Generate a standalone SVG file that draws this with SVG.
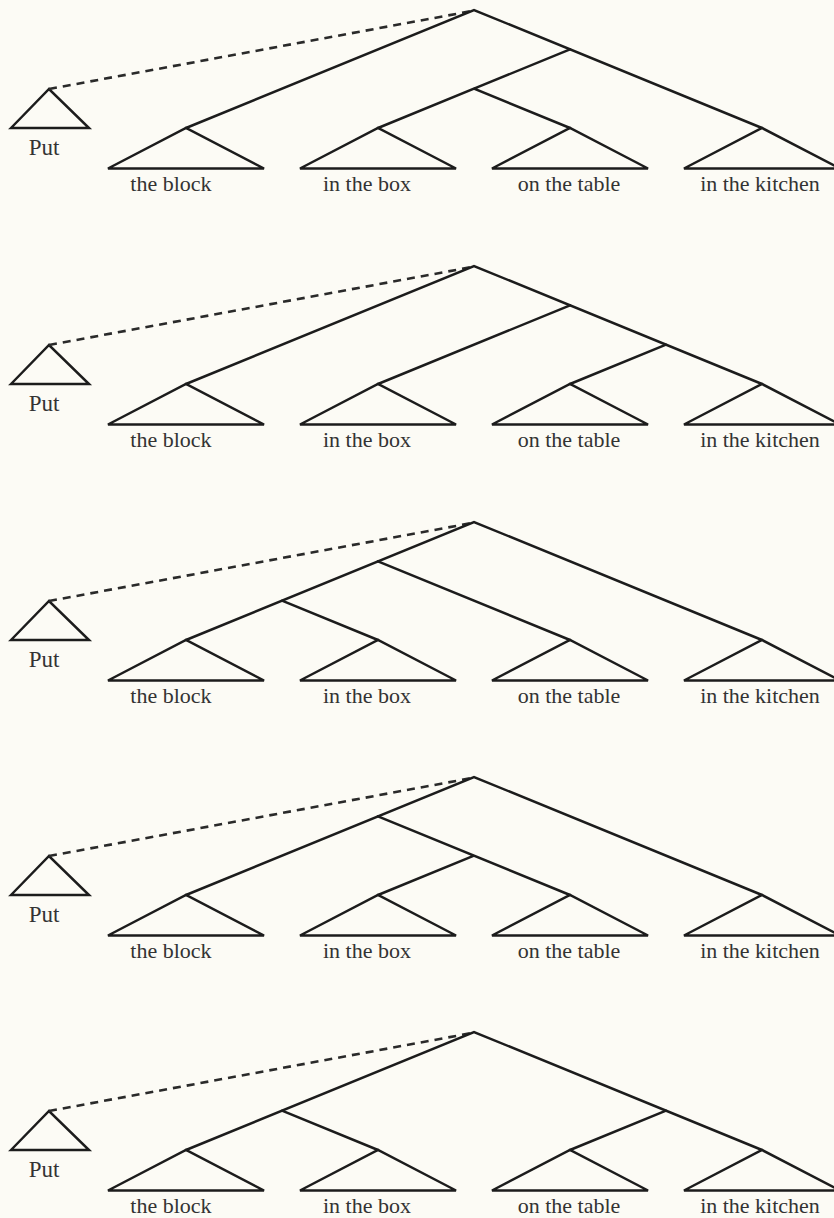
<svg xmlns="http://www.w3.org/2000/svg" width="834" height="1218" viewBox="0 0 834 1218">
<style>
.bg{fill:#fcfbf5}
.ln{fill:none;stroke:#1c1c1c;stroke-width:2.5;stroke-linejoin:miter;stroke-linecap:round}
.ds{fill:none;stroke:#2a2a2a;stroke-width:2.6;stroke-dasharray:8 6}
.lb{font-family:"Liberation Serif","Times New Roman",serif;font-size:22px;fill:#333333;text-anchor:middle}
.pt{font-size:23px}
</style>
<defs>
<path id="leaf" class="ln" d="M-78,40.5 L0,0 L78,40.5 Z"/>
<path id="put" class="ln" d="M-38,39 L0,0 L40,39 Z"/>
</defs>
<rect class="bg" x="0" y="0" width="834" height="1218"/>

<!-- Tree 1: [A [[B C] D]] -->
<g id="tree1">
<g id="t1-put"><use href="#put" x="49" y="89"/><text class="lb pt" x="44" y="155">Put</text></g>
<g id="t1-a"><use href="#leaf" x="186" y="128"/><text class="lb" x="171" y="191">the block</text></g>
<g id="t1-b"><use href="#leaf" x="378" y="128"/><text class="lb" x="367" y="191">in the box</text></g>
<g id="t1-c"><use href="#leaf" x="570" y="128"/><text class="lb" x="569" y="191">on the table</text></g>
<g id="t1-d"><use href="#leaf" x="762" y="128"/><text class="lb" x="760" y="191">in the kitchen</text></g>
<g id="t1-edges">
<line class="ds" x1="49" y1="89" x2="472" y2="11"/>
<path class="ln" d="M186,128 L474,10 L762,128"/>
<path class="ln" d="M570,49.33 L474,88.67 M378,128 L474,88.67 L570,128"/>
</g>
</g>

<!-- Tree 2: [A [B [C D]]] -->
<g id="tree2">
<g id="t2-put"><use href="#put" x="49" y="345"/><text class="lb pt" x="44" y="411">Put</text></g>
<g id="t2-a"><use href="#leaf" x="186" y="384"/><text class="lb" x="171" y="447">the block</text></g>
<g id="t2-b"><use href="#leaf" x="378" y="384"/><text class="lb" x="367" y="447">in the box</text></g>
<g id="t2-c"><use href="#leaf" x="570" y="384"/><text class="lb" x="569" y="447">on the table</text></g>
<g id="t2-d"><use href="#leaf" x="762" y="384"/><text class="lb" x="760" y="447">in the kitchen</text></g>
<g id="t2-edges">
<line class="ds" x1="49" y1="345" x2="472" y2="267"/>
<path class="ln" d="M186,384 L474,266 L762,384"/>
<path class="ln" d="M570,305.33 L378,384 M666,344.67 L570,384"/>
</g>
</g>

<!-- Tree 3: [[[A B] C] D] -->
<g id="tree3">
<g id="t3-put"><use href="#put" x="49" y="601"/><text class="lb pt" x="44" y="667">Put</text></g>
<g id="t3-a"><use href="#leaf" x="186" y="640"/><text class="lb" x="171" y="703">the block</text></g>
<g id="t3-b"><use href="#leaf" x="378" y="640"/><text class="lb" x="367" y="703">in the box</text></g>
<g id="t3-c"><use href="#leaf" x="570" y="640"/><text class="lb" x="569" y="703">on the table</text></g>
<g id="t3-d"><use href="#leaf" x="762" y="640"/><text class="lb" x="760" y="703">in the kitchen</text></g>
<g id="t3-edges">
<line class="ds" x1="49" y1="601" x2="472" y2="523"/>
<path class="ln" d="M186,640 L474,522 L762,640"/>
<path class="ln" d="M378,561.33 L570,640 M282,600.67 L378,640"/>
</g>
</g>

<!-- Tree 4: [[A [B C]] D] -->
<g id="tree4">
<g id="t4-put"><use href="#put" x="49" y="856"/><text class="lb pt" x="44" y="922">Put</text></g>
<g id="t4-a"><use href="#leaf" x="186" y="895"/><text class="lb" x="171" y="958">the block</text></g>
<g id="t4-b"><use href="#leaf" x="378" y="895"/><text class="lb" x="367" y="958">in the box</text></g>
<g id="t4-c"><use href="#leaf" x="570" y="895"/><text class="lb" x="569" y="958">on the table</text></g>
<g id="t4-d"><use href="#leaf" x="762" y="895"/><text class="lb" x="760" y="958">in the kitchen</text></g>
<g id="t4-edges">
<line class="ds" x1="49" y1="856" x2="472" y2="778"/>
<path class="ln" d="M186,895 L474,777 L762,895"/>
<path class="ln" d="M378,816.33 L570,895 M474,855.67 L378,895"/>
</g>
</g>

<!-- Tree 5: [[A B] [C D]] -->
<g id="tree5">
<g id="t5-put"><use href="#put" x="49" y="1111"/><text class="lb pt" x="44" y="1177">Put</text></g>
<g id="t5-a"><use href="#leaf" x="186" y="1150"/><text class="lb" x="171" y="1213">the block</text></g>
<g id="t5-b"><use href="#leaf" x="378" y="1150"/><text class="lb" x="367" y="1213">in the box</text></g>
<g id="t5-c"><use href="#leaf" x="570" y="1150"/><text class="lb" x="569" y="1213">on the table</text></g>
<g id="t5-d"><use href="#leaf" x="762" y="1150"/><text class="lb" x="760" y="1213">in the kitchen</text></g>
<g id="t5-edges">
<line class="ds" x1="49" y1="1111" x2="472" y2="1033"/>
<path class="ln" d="M186,1150 L474,1032 L762,1150"/>
<path class="ln" d="M282,1110.67 L378,1150 M666,1110.67 L570,1150"/>
</g>
</g>
</svg>
